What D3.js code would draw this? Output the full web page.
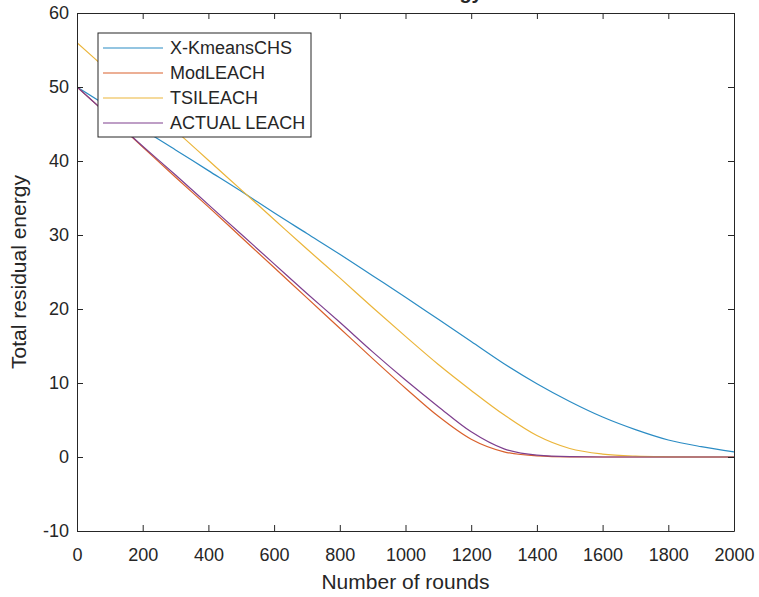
<!DOCTYPE html>
<html>
<head>
<meta charset="utf-8">
<script src="https://cdn.jsdelivr.net/npm/d3@7"></script>
<style>
  body { margin: 0; background: #fff; }
  text { font-family: "Liberation Sans", Arial, sans-serif; fill: #262626; }
</style>
</head>
<body>
<svg id="chart"></svg>
<script>
// rounds sampled every 100
const rounds = [0, 100, 200, 300, 400, 500, 600, 700, 800, 900, 1000,
  1100, 1200, 1300, 1400, 1500, 1600, 1700, 1800, 1900, 2000];

const xKmeansCHS = [50, 47.2, 44.3, 41.5, 38.7, 35.9, 33.0, 30.2, 27.4, 24.5, 21.6,
  18.6, 15.6, 12.6, 9.9, 7.5, 5.4, 3.7, 2.3, 1.4, 0.7];
const modLeach = [50, 46.0, 41.9, 37.8, 33.8, 29.7, 25.6, 21.5, 17.4, 13.3, 9.3,
  5.5, 2.4, 0.7, 0.15, 0.02, 0, 0, 0, 0, 0];
const tsiLeach = [56, 52.0, 48.0, 44.1, 40.1, 36.1, 32.1, 28.1, 24.2, 20.2, 16.3,
  12.5, 9.0, 5.7, 2.9, 1.15, 0.4, 0.12, 0.03, 0, 0];
const actualLeach = [50, 46.0, 42.0, 38.1, 34.1, 30.1, 26.1, 22.1, 18.2, 14.2, 10.4,
  6.8, 3.4, 1.1, 0.25, 0.04, 0, 0, 0, 0, 0];

const seriesNames = ["X-KmeansCHS", "ModLEACH", "TSILEACH", "ACTUAL LEACH"];
const seriesValues = [xKmeansCHS, modLeach, tsiLeach, actualLeach];
const colors = ["#2b8cc4", "#d9602c", "#ebb53a", "#7e3f8e"];

const xTicks = [0, 200, 400, 600, 800, 1000, 1200, 1400, 1600, 1800, 2000];
const yTicks = [-10, 0, 10, 20, 30, 40, 50, 60];

const W = 759, H = 597;
const margin = { top: 13, right: 25, bottom: 66, left: 77 };
const width = W - margin.left - margin.right;
const height = H - margin.top - margin.bottom;

const svg = d3.select("#chart").attr("width", W).attr("height", H);
const g = svg.append("g").attr("transform", `translate(${margin.left},${margin.top})`);

const x = d3.scaleLinear().domain([0, 2000]).range([0, width]);
const y = d3.scaleLinear().domain([-10, 60]).range([height, 0]);

svg.append("defs").append("clipPath").attr("id", "clip")
  .append("rect").attr("width", width).attr("height", height);

// lines
const line = d3.line()
  .x(d => x(d[0]))
  .y(d => y(d[1]))
  .curve(d3.curveMonotoneX);

const plot = g.append("g").attr("clip-path", "url(#clip)");
seriesValues.forEach((vals, i) => {
  plot.append("path")
    .datum(rounds.map((r, j) => [r, vals[j]]))
    .attr("d", line)
    .attr("fill", "none")
    .attr("stroke", colors[i])
    .attr("stroke-width", 1.2);
});

// axes (box with inward ticks)
function styleAxis(sel) {
  sel.selectAll(".domain").attr("stroke", "#262626").attr("stroke-width", 1);
  sel.selectAll(".tick line").attr("stroke", "#262626");
  sel.selectAll("text").attr("fill", "#262626")
    .style("font-family", '"Liberation Sans", Arial, sans-serif')
    .style("font-size", "18px");
}
const plain = d => String(d);

g.append("g")
  .attr("transform", `translate(0,${height})`)
  .call(d3.axisBottom(x).tickValues(xTicks).tickFormat(plain)
    .tickSizeInner(-6).tickSizeOuter(0).tickPadding(17))
  .call(styleAxis);

g.append("g")
  .call(d3.axisLeft(y).tickValues(yTicks).tickFormat(plain)
    .tickSizeInner(-6).tickSizeOuter(0).tickPadding(8))
  .call(styleAxis);

g.append("g")
  .call(d3.axisTop(x).tickValues(xTicks).tickSizeInner(-6).tickSizeOuter(0).tickFormat(""))
  .call(styleAxis);

g.append("g")
  .attr("transform", `translate(${width},0)`)
  .call(d3.axisRight(y).tickValues(yTicks).tickSizeInner(-6).tickSizeOuter(0).tickFormat(""))
  .call(styleAxis);

// axis titles
svg.append("text")
  .attr("x", margin.left + width / 2)
  .attr("y", 589)
  .attr("text-anchor", "middle")
  .style("font-size", "21px")
  .text("Number of rounds");

svg.append("text")
  .attr("transform", `translate(26,${margin.top + height / 2}) rotate(-90)`)
  .attr("text-anchor", "middle")
  .style("font-size", "21px")
  .text("Total residual energy");

// chart title, cut off by the top edge (only descenders visible)
svg.append("text")
  .attr("x", margin.left + width / 2)
  .attr("y", -1)
  .attr("text-anchor", "middle")
  .style("font-size", "20px")
  .style("font-weight", "bold")
  .text("Residual energy");

// legend
const legend = svg.append("g").attr("transform", "translate(98,33)");
legend.append("rect")
  .attr("width", 213)
  .attr("height", 104)
  .attr("fill", "#fff")
  .attr("stroke", "#262626")
  .attr("stroke-width", 1);

seriesNames.forEach((name, i) => {
  const row = legend.append("g").attr("transform", `translate(0,${15 + i * 25})`);
  row.append("line")
    .attr("x1", 5).attr("x2", 65)
    .attr("stroke", colors[i])
    .attr("stroke-width", 1.2);
  row.append("text")
    .attr("x", 72)
    .attr("dy", "0.35em")
    .style("font-size", "18px")
    .text(name);
});
</script>
</body>
</html>
